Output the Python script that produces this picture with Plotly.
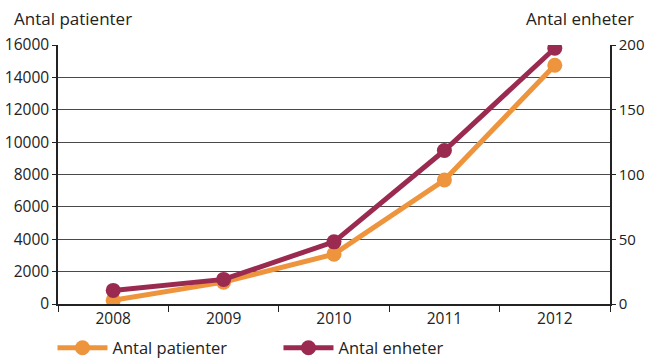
import plotly.graph_objects as go

years = ["2008", "2009", "2010", "2011", "2012"]
patienter = [230, 1350, 3080, 7660, 14750]
enheter = [10.5, 19, 48, 118.5, 197.5]

orange = "#EE943C"
crimson = "#9B2A50"
ink = "#222222"
font_family = "Open Sans, Noto Sans, sans-serif"

fig = go.Figure()
fig.add_trace(go.Scatter(
    x=years, y=patienter, name="Antal patienter", mode="lines+markers",
    line=dict(color=orange, width=5), marker=dict(color=orange, size=15),
))
fig.add_trace(go.Scatter(
    x=years, y=enheter, name="Antal enheter", mode="lines+markers", yaxis="y2",
    line=dict(color=crimson, width=5), marker=dict(color=crimson, size=15),
))

fig.update_layout(
    width=650, height=360,
    margin=dict(l=58, r=40, t=45, b=56, autoexpand=False),
    paper_bgcolor="white", plot_bgcolor="white",
    font=dict(family=font_family, size=15, color=ink),
    xaxis=dict(
        type="category", range=[-0.5, 4.5], tickson="boundaries",
        ticks="outside", ticklen=6, tickcolor=ink, showgrid=False,
        showline=True, linecolor=ink, linewidth=1.5, mirror=False,
        tickfont=dict(size=15.5), automargin=False,
    ),
    yaxis=dict(
        range=[0, 16000], dtick=2000, tickformat="d",
        ticks="outside", ticklen=4, tickcolor=ink,
        showline=True, linecolor=ink, linewidth=1.5,
        gridcolor="#4a4a4a", gridwidth=1, zeroline=False,
        tickfont=dict(size=15.5), automargin=False,
    ),
    yaxis2=dict(
        overlaying="y", side="right", range=[0, 200], dtick=50,
        ticks="outside", ticklen=4, tickcolor=ink,
        showline=True, linecolor=ink, linewidth=1.5,
        showgrid=False, zeroline=False, tickfont=dict(size=15),
        automargin=False,
    ),
    legend=dict(
        orientation="h", x=-0.01, xanchor="left", y=-0.17, yanchor="middle",
        font=dict(size=16.5), entrywidth=161, entrywidthmode="pixels",
        itemwidth=50, bgcolor="rgba(0,0,0,0)",
    ),
    annotations=[
        dict(text="Antal patienter", xref="paper", yref="paper", x=-0.083, y=1.0,
             yshift=27, xanchor="left", yanchor="middle", showarrow=False,
             font=dict(size=17, color=ink)),
        dict(text="Antal enheter", xref="paper", yref="paper", x=1.0, y=1.0,
             xshift=26, yshift=27, xanchor="right", yanchor="middle", showarrow=False,
             font=dict(size=17, color=ink)),
    ],
)

fig.write_html("out.html")
